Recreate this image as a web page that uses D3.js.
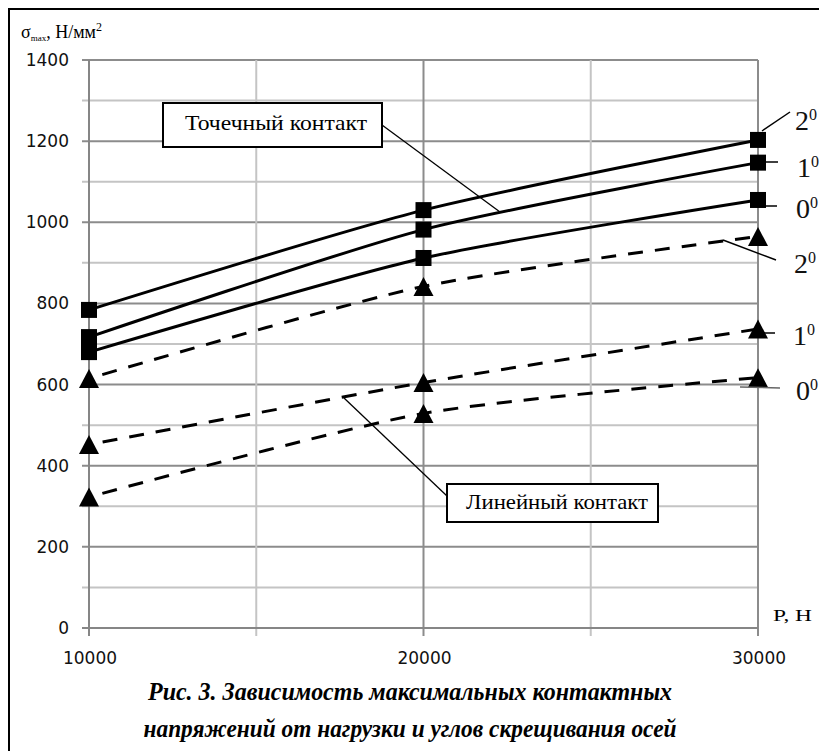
<!DOCTYPE html>
<html><head><meta charset="utf-8">
<script src="https://cdn.jsdelivr.net/npm/d3@7"></script>
<style>body{margin:0;background:#fff}svg{display:block}</style>
</head><body>
<script>
const loads = [10000, 20000, 30000];
const pointAngles = ["2", "1", "0"];
const point2 = [784, 1030, 1203];
const point1 = [717, 982, 1147];
const point0 = [680, 912, 1055];
const line2 = [615, 842, 965];
const line1 = [452, 605, 737];
const line0 = [323, 529, 617];
const yTicks = [0, 200, 400, 600, 800, 1000, 1200, 1400];
const xTickLabels = ["10000", "20000", "30000"];
const caption = ["Рис. 3. Зависимость максимальных контактных", "напряжений от нагрузки и углов  скрещивания осей"];

const SERIF = "'Liberation Serif', 'Times New Roman', 'DejaVu Serif', serif";
const W = 819, H = 751;
const svg = d3.select("body").append("svg").attr("width", W).attr("height", H);
svg.append("rect").attr("width", W).attr("height", H).attr("fill", "#fff");
// frame
svg.append("rect").attr("x", 9).attr("y", 9).attr("width", 830).attr("height", 780)
  .attr("fill", "none").attr("stroke", "#000").attr("stroke-width", 2);

const x = d3.scaleLinear().domain([10000, 30000]).range([89, 758]);
const y = d3.scaleLinear().domain([0, 1400]).range([628, 60]);

const g = svg.append("g");
d3.range(100, 1401, 100).forEach(v => {
  const major = v % 200 === 0;
  g.append("line").attr("x1", 82).attr("x2", 758).attr("y1", y(v)).attr("y2", y(v))
    .attr("stroke", major ? "#8c8c8c" : "#c4c4c4").attr("stroke-width", 2);
});
d3.range(15000, 30001, 5000).forEach(v => {
  const major = v % 10000 === 0;
  g.append("line").attr("x1", x(v)).attr("x2", x(v)).attr("y1", 60).attr("y2", 636)
    .attr("stroke", major ? "#8c8c8c" : "#c4c4c4").attr("stroke-width", 2);
});
g.append("line").attr("x1", 89).attr("x2", 89).attr("y1", 60).attr("y2", 636)
  .attr("stroke", "#868686").attr("stroke-width", 2);
g.append("line").attr("x1", 82).attr("x2", 758).attr("y1", 628).attr("y2", 628)
  .attr("stroke", "#868686").attr("stroke-width", 2);

yTicks.forEach(v => {
  svg.append("text").attr("x", 69).attr("y", y(v) + 6).attr("text-anchor", "end")
    .attr("font-family", "DejaVu Sans").attr("font-size", 17).attr("fill", "#111").text(v);
});
loads.forEach((v, i) => {
  svg.append("text").attr("x", x(v) + 1).attr("y", 664).attr("text-anchor", "middle")
    .attr("font-family", "DejaVu Sans").attr("font-size", 17).attr("fill", "#111").text(xTickLabels[i]);
});

// axis titles
const yt = svg.append("text").attr("x", 21).attr("y", 38)
  .attr("font-family", SERIF).attr("font-size", 18).attr("fill", "#000");
yt.append("tspan").text("σ");
yt.append("tspan").attr("font-size", 9).attr("dy", 3).text("max");
yt.append("tspan").attr("dy", -3).text(", Н/мм");
yt.append("tspan").attr("font-size", 12).attr("dy", -7).text("2");
svg.append("text").attr("x", 773).attr("y", 621).attr("font-family", SERIF)
  .attr("font-size", 17).attr("textLength", 39).attr("lengthAdjust", "spacingAndGlyphs")
  .attr("fill", "#000").text("P, Н");

const curve = d3.line().x((d, i) => x(loads[i])).y(d => y(d)).curve(d3.curveCardinal.tension(0.3));
[point2, point1, point0].forEach(s => {
  svg.append("path").attr("d", curve(s)).attr("fill", "none").attr("stroke", "#000").attr("stroke-width", 3);
});
[line2, line1, line0].forEach(s => {
  svg.append("path").attr("d", curve(s)).attr("fill", "none").attr("stroke", "#000")
    .attr("stroke-width", 3).attr("stroke-dasharray", "15,12").attr("stroke-dashoffset", -14);
});
[point2, point1, point0].forEach(s => {
  s.forEach((v, i) => {
    svg.append("rect").attr("x", x(loads[i]) - 8).attr("y", y(v) - 8).attr("width", 16).attr("height", 16).attr("fill", "#000");
  });
});
[line2, line1, line0].forEach(s => {
  s.forEach((v, i) => {
    svg.append("path").attr("d", "M0,-9.5L10,9.5L-10,9.5Z")
      .attr("transform", `translate(${x(loads[i])},${y(v)})`).attr("fill", "#000");
  });
});

const leaders = [
  [762, 131, 790, 112, "#000"],
  [758, 162, 778, 162, "#000"],
  [758, 206, 777, 206, "#000"],
  [723, 240, 776, 260, "#000"],
  [758, 333, 775, 333, "#000"],
  [740, 387, 780, 388, "#666"]
];
leaders.forEach(l => svg.append("line").attr("x1", l[0]).attr("y1", l[1]).attr("x2", l[2]).attr("y2", l[3])
  .attr("stroke", l[4]).attr("stroke-width", 1.5));
const angleLabels = [
  [795, 130, pointAngles[0]], [797, 177, pointAngles[1]], [796, 218, pointAngles[2]],
  [794, 273, pointAngles[0]], [793, 345, pointAngles[1]], [796, 400, pointAngles[2]]
];
angleLabels.forEach(a => {
  const t = svg.append("text").attr("x", a[0]).attr("y", a[1]).attr("font-family", SERIF)
    .attr("font-size", 28).attr("fill", "#111");
  t.append("tspan").text(a[2]);
  t.append("tspan").attr("font-size", 16).attr("dy", -10).text("0");
});

svg.append("line").attr("x1", 382).attr("y1", 125).attr("x2", 500).attr("y2", 212).attr("stroke", "#000").attr("stroke-width", 1.3);
svg.append("rect").attr("x", 163).attr("y", 103).attr("width", 219).attr("height", 44)
  .attr("fill", "#fff").attr("stroke", "#000").attr("stroke-width", 2);
svg.append("text").attr("x", 185).attr("y", 130).attr("font-family", SERIF)
  .attr("font-size", 22).attr("textLength", 182).attr("lengthAdjust", "spacingAndGlyphs")
  .attr("fill", "#000").text("Точечный контакт");

svg.append("line").attr("x1", 344).attr("y1", 398).attr("x2", 447).attr("y2", 496).attr("stroke", "#000").attr("stroke-width", 1.3);
svg.append("rect").attr("x", 447).attr("y", 484).attr("width", 211).attr("height", 38)
  .attr("fill", "#fff").attr("stroke", "#000").attr("stroke-width", 2);
svg.append("text").attr("x", 466).attr("y", 509).attr("font-family", SERIF)
  .attr("font-size", 22).attr("textLength", 182).attr("lengthAdjust", "spacingAndGlyphs")
  .attr("fill", "#000").text("Линейный контакт");

const capW = [524, 533];
caption.forEach((c, i) => {
  svg.append("text").attr("x", 410 - capW[i] / 2).attr("y", 700 + i * 37)
    .attr("font-family", SERIF).attr("font-weight", "bold").attr("font-style", "italic")
    .attr("font-size", 25).attr("textLength", capW[i]).attr("lengthAdjust", "spacingAndGlyphs")
    .attr("fill", "#000").text(c);
});
</script>
</body></html>
